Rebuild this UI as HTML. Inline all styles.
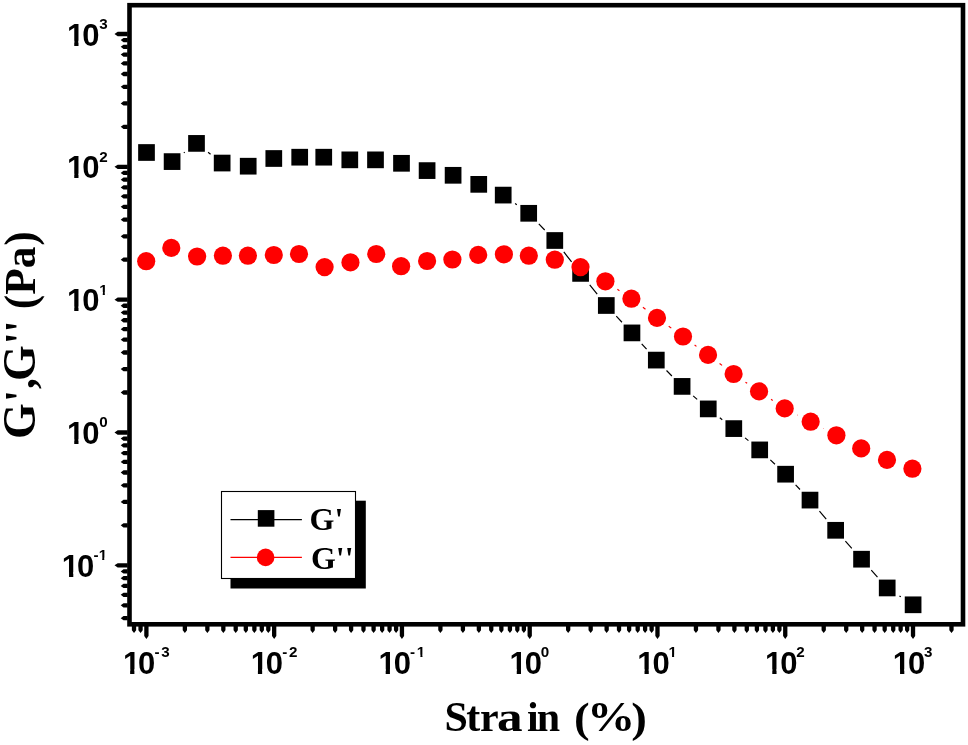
<!DOCTYPE html>
<html lang="en"><head><meta charset="utf-8"><title>G', G'' vs Strain</title>
<style>html,body{margin:0;padding:0;background:#fff}body{width:968px;height:745px;overflow:hidden}svg{display:block}
.tk{font-family:"Liberation Sans",Arial,sans-serif;font-weight:bold;font-size:31px;fill:#000}
.sp{font-family:"Liberation Sans",Arial,sans-serif;font-weight:bold;font-size:15.2px;fill:#000}
.ti{font-family:"Liberation Serif","Times New Roman",serif;font-weight:bold;font-size:43.5px;fill:#000}
.lg{font-family:"Liberation Serif","Times New Roman",serif;font-weight:bold;font-size:32px;fill:#000}
</style></head><body>
<svg width="968" height="745" viewBox="0 0 968 745">
<rect x="0" y="0" width="968" height="745" fill="#fff"/>
<rect x="129.50" y="5.20" width="833.50" height="619.10" fill="none" stroke="#000" stroke-width="4.60"/>
<path d="M131.87 626.10L136.17 626.10L136.17 630.20L134.02 633.00L131.87 630.20ZM138.40 626.10L142.70 626.10L142.70 630.20L140.55 633.00L138.40 630.20ZM144.25 626.10L148.55 626.10L148.55 635.90L146.40 639.10L144.25 635.90ZM182.71 626.10L187.01 626.10L187.01 630.20L184.86 633.00L182.71 630.20ZM205.21 626.10L209.51 626.10L209.51 630.20L207.36 633.00L205.21 630.20ZM221.18 626.10L225.48 626.10L225.48 630.20L223.33 633.00L221.18 630.20ZM233.56 626.10L237.86 626.10L237.86 630.20L235.71 633.00L233.56 630.20ZM243.67 626.10L247.97 626.10L247.97 630.20L245.82 633.00L243.67 630.20ZM252.23 626.10L256.53 626.10L256.53 630.20L254.38 633.00L252.23 630.20ZM259.64 626.10L263.94 626.10L263.94 630.20L261.79 633.00L259.64 630.20ZM266.17 626.10L270.47 626.10L270.47 630.20L268.32 633.00L266.17 630.20ZM272.02 626.10L276.32 626.10L276.32 635.90L274.17 639.10L272.02 635.90ZM310.48 626.10L314.78 626.10L314.78 630.20L312.63 633.00L310.48 630.20ZM332.98 626.10L337.28 626.10L337.28 630.20L335.13 633.00L332.98 630.20ZM348.95 626.10L353.25 626.10L353.25 630.20L351.10 633.00L348.95 630.20ZM361.33 626.10L365.63 626.10L365.63 630.20L363.48 633.00L361.33 630.20ZM371.44 626.10L375.74 626.10L375.74 630.20L373.59 633.00L371.44 630.20ZM380.00 626.10L384.30 626.10L384.30 630.20L382.15 633.00L380.00 630.20ZM387.41 626.10L391.71 626.10L391.71 630.20L389.56 633.00L387.41 630.20ZM393.94 626.10L398.24 626.10L398.24 630.20L396.09 633.00L393.94 630.20ZM399.79 626.10L404.09 626.10L404.09 635.90L401.94 639.10L399.79 635.90ZM438.25 626.10L442.55 626.10L442.55 630.20L440.40 633.00L438.25 630.20ZM460.75 626.10L465.05 626.10L465.05 630.20L462.90 633.00L460.75 630.20ZM476.72 626.10L481.02 626.10L481.02 630.20L478.87 633.00L476.72 630.20ZM489.10 626.10L493.40 626.10L493.40 630.20L491.25 633.00L489.10 630.20ZM499.21 626.10L503.51 626.10L503.51 630.20L501.36 633.00L499.21 630.20ZM507.77 626.10L512.07 626.10L512.07 630.20L509.92 633.00L507.77 630.20ZM515.18 626.10L519.48 626.10L519.48 630.20L517.33 633.00L515.18 630.20ZM521.71 626.10L526.01 626.10L526.01 630.20L523.86 633.00L521.71 630.20ZM527.56 626.10L531.86 626.10L531.86 635.90L529.71 639.10L527.56 635.90ZM566.02 626.10L570.32 626.10L570.32 630.20L568.17 633.00L566.02 630.20ZM588.52 626.10L592.82 626.10L592.82 630.20L590.67 633.00L588.52 630.20ZM604.49 626.10L608.79 626.10L608.79 630.20L606.64 633.00L604.49 630.20ZM616.87 626.10L621.17 626.10L621.17 630.20L619.02 633.00L616.87 630.20ZM626.98 626.10L631.28 626.10L631.28 630.20L629.13 633.00L626.98 630.20ZM635.54 626.10L639.84 626.10L639.84 630.20L637.69 633.00L635.54 630.20ZM642.95 626.10L647.25 626.10L647.25 630.20L645.10 633.00L642.95 630.20ZM649.48 626.10L653.78 626.10L653.78 630.20L651.63 633.00L649.48 630.20ZM655.33 626.10L659.63 626.10L659.63 635.90L657.48 639.10L655.33 635.90ZM693.79 626.10L698.09 626.10L698.09 630.20L695.94 633.00L693.79 630.20ZM716.29 626.10L720.59 626.10L720.59 630.20L718.44 633.00L716.29 630.20ZM732.26 626.10L736.56 626.10L736.56 630.20L734.41 633.00L732.26 630.20ZM744.64 626.10L748.94 626.10L748.94 630.20L746.79 633.00L744.64 630.20ZM754.75 626.10L759.05 626.10L759.05 630.20L756.90 633.00L754.75 630.20ZM763.31 626.10L767.61 626.10L767.61 630.20L765.46 633.00L763.31 630.20ZM770.72 626.10L775.02 626.10L775.02 630.20L772.87 633.00L770.72 630.20ZM777.25 626.10L781.55 626.10L781.55 630.20L779.40 633.00L777.25 630.20ZM783.10 626.10L787.40 626.10L787.40 635.90L785.25 639.10L783.10 635.90ZM821.56 626.10L825.86 626.10L825.86 630.20L823.71 633.00L821.56 630.20ZM844.06 626.10L848.36 626.10L848.36 630.20L846.21 633.00L844.06 630.20ZM860.03 626.10L864.33 626.10L864.33 630.20L862.18 633.00L860.03 630.20ZM872.41 626.10L876.71 626.10L876.71 630.20L874.56 633.00L872.41 630.20ZM882.52 626.10L886.82 626.10L886.82 630.20L884.67 633.00L882.52 630.20ZM891.08 626.10L895.38 626.10L895.38 630.20L893.23 633.00L891.08 630.20ZM898.49 626.10L902.79 626.10L902.79 630.20L900.64 633.00L898.49 630.20ZM905.02 626.10L909.32 626.10L909.32 630.20L907.17 633.00L905.02 630.20ZM910.87 626.10L915.17 626.10L915.17 635.90L913.02 639.10L910.87 635.90ZM949.33 626.10L953.63 626.10L953.63 630.20L951.48 633.00L949.33 630.20ZM127.70 616.03L127.70 620.33L123.50 620.33L120.70 618.18L123.50 616.03ZM127.70 603.16L127.70 607.46L123.50 607.46L120.70 605.31L123.50 603.16ZM127.70 592.64L127.70 596.94L123.50 596.94L120.70 594.79L123.50 592.64ZM127.70 583.75L127.70 588.05L123.50 588.05L120.70 585.90L123.50 583.75ZM127.70 576.04L127.70 580.34L123.50 580.34L120.70 578.19L123.50 576.04ZM127.70 569.25L127.70 573.55L123.50 573.55L120.70 571.40L123.50 569.25ZM127.70 563.17L127.70 567.47L117.70 567.47L114.50 565.32L117.70 563.17ZM127.70 523.18L127.70 527.48L123.50 527.48L120.70 525.33L123.50 523.18ZM127.70 499.79L127.70 504.09L123.50 504.09L120.70 501.94L123.50 499.79ZM127.70 483.20L127.70 487.50L123.50 487.50L120.70 485.35L123.50 483.20ZM127.70 470.33L127.70 474.63L123.50 474.63L120.70 472.48L123.50 470.33ZM127.70 459.81L127.70 464.11L123.50 464.11L120.70 461.96L123.50 459.81ZM127.70 450.92L127.70 455.22L123.50 455.22L120.70 453.07L123.50 450.92ZM127.70 443.21L127.70 447.51L123.50 447.51L120.70 445.36L123.50 443.21ZM127.70 436.42L127.70 440.72L123.50 440.72L120.70 438.57L123.50 436.42ZM127.70 430.34L127.70 434.64L117.70 434.64L114.50 432.49L117.70 430.34ZM127.70 390.35L127.70 394.65L123.50 394.65L120.70 392.50L123.50 390.35ZM127.70 366.96L127.70 371.26L123.50 371.26L120.70 369.11L123.50 366.96ZM127.70 350.37L127.70 354.67L123.50 354.67L120.70 352.52L123.50 350.37ZM127.70 337.50L127.70 341.80L123.50 341.80L120.70 339.65L123.50 337.50ZM127.70 326.98L127.70 331.28L123.50 331.28L120.70 329.13L123.50 326.98ZM127.70 318.09L127.70 322.39L123.50 322.39L120.70 320.24L123.50 318.09ZM127.70 310.38L127.70 314.68L123.50 314.68L120.70 312.53L123.50 310.38ZM127.70 303.59L127.70 307.89L123.50 307.89L120.70 305.74L123.50 303.59ZM127.70 297.51L127.70 301.81L117.70 301.81L114.50 299.66L117.70 297.51ZM127.70 257.52L127.70 261.82L123.50 261.82L120.70 259.67L123.50 257.52ZM127.70 234.13L127.70 238.43L123.50 238.43L120.70 236.28L123.50 234.13ZM127.70 217.54L127.70 221.84L123.50 221.84L120.70 219.69L123.50 217.54ZM127.70 204.67L127.70 208.97L123.50 208.97L120.70 206.82L123.50 204.67ZM127.70 194.15L127.70 198.45L123.50 198.45L120.70 196.30L123.50 194.15ZM127.70 185.26L127.70 189.56L123.50 189.56L120.70 187.41L123.50 185.26ZM127.70 177.55L127.70 181.85L123.50 181.85L120.70 179.70L123.50 177.55ZM127.70 170.76L127.70 175.06L123.50 175.06L120.70 172.91L123.50 170.76ZM127.70 164.68L127.70 168.98L117.70 168.98L114.50 166.83L117.70 164.68ZM127.70 124.69L127.70 128.99L123.50 128.99L120.70 126.84L123.50 124.69ZM127.70 101.30L127.70 105.60L123.50 105.60L120.70 103.45L123.50 101.30ZM127.70 84.71L127.70 89.01L123.50 89.01L120.70 86.86L123.50 84.71ZM127.70 71.84L127.70 76.14L123.50 76.14L120.70 73.99L123.50 71.84ZM127.70 61.32L127.70 65.62L123.50 65.62L120.70 63.47L123.50 61.32ZM127.70 52.43L127.70 56.73L123.50 56.73L120.70 54.58L123.50 52.43ZM127.70 44.72L127.70 49.02L123.50 49.02L120.70 46.87L123.50 44.72ZM127.70 37.93L127.70 42.23L123.50 42.23L120.70 40.08L123.50 37.93ZM127.70 31.85L127.70 36.15L117.70 36.15L114.50 34.00L117.70 31.85Z" fill="#000"/>
<text class="tk" y="674.00" x="122.90 138.10">10<tspan class="sp" y="657.30" x="154.50 161.30">-3</tspan></text><path fill="#fff" d="M123.85 669.23H130.14V675.00H123.85ZM134.39 669.23H139.88V675.00H134.39Z"/>
<text class="tk" y="674.00" x="250.67 265.87">10<tspan class="sp" y="657.30" x="282.27 289.07">-2</tspan></text><path fill="#fff" d="M251.62 669.23H257.91V675.00H251.62ZM262.16 669.23H267.65V675.00H262.16Z"/>
<text class="tk" y="674.00" x="378.44 393.64">10<tspan class="sp" y="657.30" x="410.04 416.84">-1</tspan></text><path fill="#fff" d="M379.39 669.23H385.68V675.00H379.39ZM389.93 669.23H395.42V675.00H389.93Z"/><path fill="#fff" d="M417.00 654.85H420.39V658.10H417.00ZM422.47 654.85H425.47V658.10H422.47Z"/>
<text class="tk" y="674.00" x="509.51 524.71">10<tspan class="sp" y="657.30" x="540.71">0</tspan></text><path fill="#fff" d="M510.46 669.23H516.75V675.00H510.46ZM521.00 669.23H526.49V675.00H521.00Z"/>
<text class="tk" y="674.00" x="637.28 652.48">10<tspan class="sp" y="657.30" x="668.48">1</tspan></text><path fill="#fff" d="M638.23 669.23H644.52V675.00H638.23ZM648.77 669.23H654.26V675.00H648.77Z"/><path fill="#fff" d="M668.64 654.85H672.03V658.10H668.64ZM674.11 654.85H677.11V658.10H674.11Z"/>
<text class="tk" y="674.00" x="765.05 780.25">10<tspan class="sp" y="657.30" x="796.25">2</tspan></text><path fill="#fff" d="M766.00 669.23H772.29V675.00H766.00ZM776.54 669.23H782.03V675.00H776.54Z"/>
<text class="tk" y="674.00" x="892.82 908.02">10<tspan class="sp" y="657.30" x="924.02">3</tspan></text><path fill="#fff" d="M893.77 669.23H900.06V675.00H893.77ZM904.31 669.23H909.80V675.00H904.31Z"/>
<text class="tk" y="576.92" x="61.80 77.00">10<tspan class="sp" y="560.22" x="93.40 98.65">-1</tspan></text><path fill="#fff" d="M62.75 572.15H69.04V577.92H62.75ZM73.29 572.15H78.78V577.92H73.29Z"/><path fill="#fff" d="M98.81 557.77H102.20V561.02H98.81ZM104.28 557.77H107.28V561.02H104.28Z"/>
<text class="tk" y="444.09" x="67.00 82.20">10<tspan class="sp" y="427.39" x="99.20">0</tspan></text><path fill="#fff" d="M67.95 439.32H74.24V445.09H67.95ZM78.49 439.32H83.98V445.09H78.49Z"/>
<text class="tk" y="311.26" x="67.00 82.20">10<tspan class="sp" y="294.56" x="99.20">1</tspan></text><path fill="#fff" d="M67.95 306.49H74.24V312.26H67.95ZM78.49 306.49H83.98V312.26H78.49Z"/><path fill="#fff" d="M99.36 292.11H102.75V295.36H99.36ZM104.83 292.11H107.83V295.36H104.83Z"/>
<text class="tk" y="178.43" x="67.00 82.20">10<tspan class="sp" y="161.73" x="99.20">2</tspan></text><path fill="#fff" d="M67.95 173.66H74.24V179.43H67.95ZM78.49 173.66H83.98V179.43H78.49Z"/>
<text class="tk" y="45.60" x="67.00 82.20">10<tspan class="sp" y="28.90" x="99.20">3</tspan></text><path fill="#fff" d="M67.95 40.83H74.24V46.60H67.95ZM78.49 40.83H83.98V46.60H78.49Z"/>
<text class="ti" style="font-size:42px" y="730.6" x="444.5 466.2 479.9">Str</text>
<text class="ti" style="font-size:42px" transform="translate(497.0 730.6) scale(1.22 1)">a</text>
<text class="ti" style="font-size:42px" y="730.6" x="527.1 536.8 560">in </text>
<text class="ti" style="font-size:42px" transform="translate(573.9 731.5) scale(1.12 1)">(</text>
<text class="ti" style="font-size:42px" transform="translate(587.1 730.6) scale(1.15 1)">%</text>
<text class="ti" style="font-size:42px" transform="translate(631.3 731.5) scale(1.12 1)">)</text>
<text class="ti" transform="translate(34.7 438.9) rotate(-90)"><tspan x="0" style="font-size:46px">G</tspan><tspan x="36.8 49.8">',</tspan><tspan x="57.9" style="font-size:46px">G</tspan><tspan x="94.6 106.3 118 129.6 144.1 170.7 193.2">'' (Pa)</tspan></text>
<path d="M183.80 152.87L184.80 152.13M208.09 152.28L210.56 154.17M515.08 203.58L516.82 204.82M538.81 223.83L544.69 229.97M563.81 251.99L571.59 261.91M589.72 284.80L597.18 294.10M616.28 316.16L621.98 322.24M641.70 343.78L646.56 349.22M666.52 370.52L671.88 375.98M693.17 395.92L697.18 399.38M719.81 417.81L722.24 419.69M745.08 437.87L748.42 440.63M770.35 459.89L774.95 464.21M795.61 484.83L799.99 489.47M819.45 511.23L826.20 519.17M845.39 541.17L851.81 548.33M871.27 570.09L877.48 577.06M899.44 595.91L900.86 596.84" stroke="#000" stroke-width="1.2" fill="none"/>
<g fill="#000">
<rect x="138.15" y="144.15" width="16.70" height="16.70"/>
<rect x="163.75" y="153.25" width="16.70" height="16.70"/>
<rect x="188.15" y="135.05" width="16.70" height="16.70"/>
<rect x="213.80" y="154.70" width="16.70" height="16.70"/>
<rect x="239.85" y="157.85" width="16.70" height="16.70"/>
<rect x="265.45" y="150.15" width="16.70" height="16.70"/>
<rect x="291.35" y="148.85" width="16.70" height="16.70"/>
<rect x="315.40" y="148.85" width="16.70" height="16.70"/>
<rect x="341.45" y="151.50" width="16.70" height="16.70"/>
<rect x="367.15" y="151.50" width="16.70" height="16.70"/>
<rect x="393.15" y="154.95" width="16.70" height="16.70"/>
<rect x="418.75" y="162.25" width="16.70" height="16.70"/>
<rect x="444.75" y="166.95" width="16.70" height="16.70"/>
<rect x="470.40" y="176.00" width="16.70" height="16.70"/>
<rect x="494.85" y="186.75" width="16.70" height="16.70"/>
<rect x="520.35" y="204.95" width="16.70" height="16.70"/>
<rect x="546.45" y="232.15" width="16.70" height="16.70"/>
<rect x="572.25" y="265.05" width="16.70" height="16.70"/>
<rect x="597.95" y="297.15" width="16.70" height="16.70"/>
<rect x="623.61" y="324.55" width="16.70" height="16.70"/>
<rect x="647.95" y="351.75" width="16.70" height="16.70"/>
<rect x="673.75" y="378.05" width="16.70" height="16.70"/>
<rect x="699.90" y="400.55" width="16.70" height="16.70"/>
<rect x="725.45" y="420.25" width="16.70" height="16.70"/>
<rect x="751.35" y="441.55" width="16.70" height="16.70"/>
<rect x="777.25" y="465.85" width="16.70" height="16.70"/>
<rect x="801.65" y="491.75" width="16.70" height="16.70"/>
<rect x="827.30" y="521.95" width="16.70" height="16.70"/>
<rect x="853.20" y="550.85" width="16.70" height="16.70"/>
<rect x="878.85" y="579.60" width="16.70" height="16.70"/>
<rect x="904.75" y="596.45" width="16.70" height="16.70"/>
</g>
<path d="M617.37 289.31L619.43 290.69M642.92 307.34L645.48 309.26M668.71 326.28L671.29 328.12M694.61 345.02L696.44 346.38M719.58 363.52L722.07 365.38M745.49 382.13L747.16 383.27M771.05 399.36L772.70 400.44M797.51 414.97L797.84 415.13M823.38 428.43L823.67 428.57" stroke="#f00" stroke-width="1.2" fill="none"/>
<g fill="#f00">
<circle cx="146.20" cy="261.20" r="9.10"/>
<circle cx="171.30" cy="247.90" r="9.10"/>
<circle cx="197.10" cy="256.50" r="9.10"/>
<circle cx="222.90" cy="255.70" r="9.10"/>
<circle cx="247.90" cy="255.70" r="9.10"/>
<circle cx="273.80" cy="255.00" r="9.10"/>
<circle cx="299.00" cy="254.00" r="9.10"/>
<circle cx="324.60" cy="267.10" r="9.10"/>
<circle cx="350.45" cy="262.40" r="9.10"/>
<circle cx="376.25" cy="254.00" r="9.10"/>
<circle cx="401.10" cy="266.20" r="9.10"/>
<circle cx="427.10" cy="261.00" r="9.10"/>
<circle cx="452.40" cy="259.50" r="9.10"/>
<circle cx="478.20" cy="254.90" r="9.10"/>
<circle cx="503.90" cy="254.30" r="9.10"/>
<circle cx="528.80" cy="255.70" r="9.10"/>
<circle cx="554.80" cy="259.70" r="9.10"/>
<circle cx="580.50" cy="267.10" r="9.10"/>
<circle cx="605.40" cy="281.30" r="9.10"/>
<circle cx="631.40" cy="298.70" r="9.10"/>
<circle cx="657.00" cy="317.90" r="9.10"/>
<circle cx="683.00" cy="336.50" r="9.10"/>
<circle cx="708.05" cy="354.90" r="9.10"/>
<circle cx="733.60" cy="374.00" r="9.10"/>
<circle cx="759.05" cy="391.40" r="9.10"/>
<circle cx="784.70" cy="408.40" r="9.10"/>
<circle cx="810.65" cy="421.70" r="9.10"/>
<circle cx="836.40" cy="435.30" r="9.10"/>
<circle cx="861.20" cy="448.40" r="9.10"/>
<circle cx="887.00" cy="459.90" r="9.10"/>
<circle cx="912.40" cy="468.70" r="9.10"/>
</g>
<rect x="230.5" y="500.7" width="135.3" height="87.8" fill="#000"/>
<rect x="221.5" y="491.5" width="134" height="87" fill="#fff" stroke="#000" stroke-width="1.1"/>
<path d="M230.5 519.6H301.9" stroke="#000" stroke-width="1.2"/>
<rect x="257.8" y="510.1" width="16.6" height="16.6" fill="#000"/>
<path d="M230.5 557.4H301.9" stroke="#f00" stroke-width="1.2"/>
<circle cx="265.6" cy="557.4" r="8.8" fill="#f00"/>
<text class="lg" x="309.5" y="529.7">G'</text>
<text class="lg" x="310.9" y="568.7">G''</text>
</svg></body></html>
